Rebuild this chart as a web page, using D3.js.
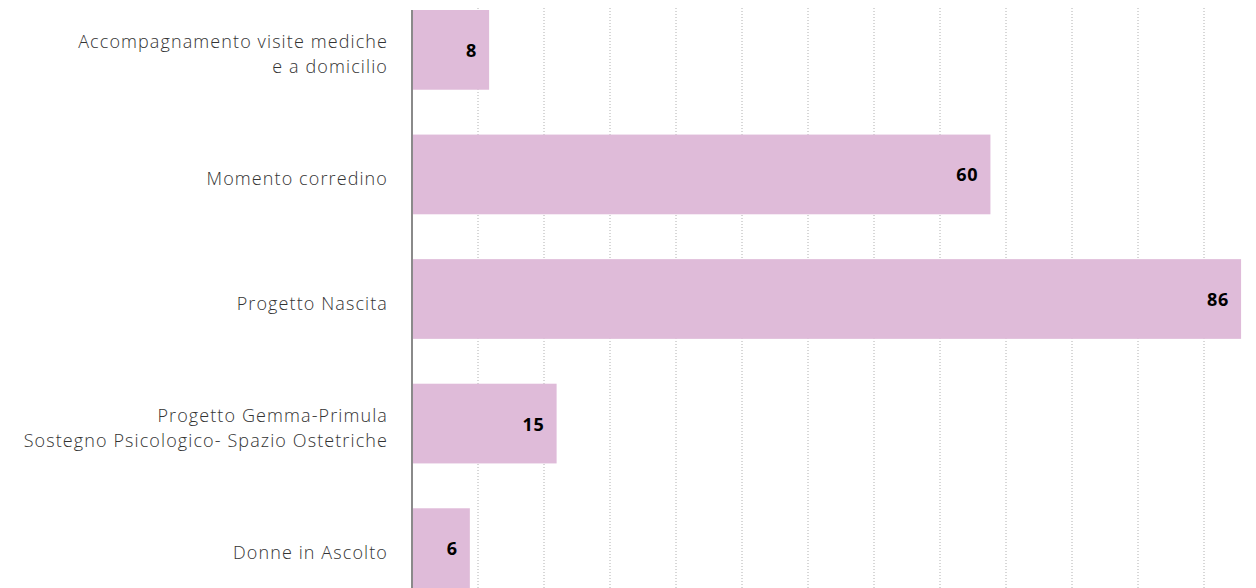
<!DOCTYPE html>
<html><head><meta charset="utf-8">
<script src="https://cdn.jsdelivr.net/npm/d3@7"></script>
<style>html,body{margin:0;padding:0;background:#fff;}svg{display:block;}</style>
</head><body>
<script>
const categories = [
  ["Accompagnamento visite mediche", "e a domicilio"],
  ["Momento corredino"],
  ["Progetto Nascita"],
  ["Progetto Gemma-Primula", "Sostegno Psicologico- Spazio Ostetriche"],
  ["Donne in Ascolto"]
];
const values = [8, 60, 86, 15, 6];
const gridLines = d3.range(1, 13);

const W = 1256, H = 588;
const svg = d3.select("body").append("svg").attr("width", W).attr("height", H);

const x = d3.scaleLinear().domain([0, 89]).range([412, 1270]);
const g = d3.scaleLinear().domain([0, 13]).range([412, 1270]);
const y = d3.scaleBand().domain(d3.range(categories.length)).range([10, 588]).paddingInner(0.36).paddingOuter(0);

svg.append("g").selectAll("line").data(gridLines).join("line")
  .attr("x1", d => g(d)).attr("x2", d => g(d))
  .attr("y1", 8).attr("y2", H)
  .attr("stroke", "#b0b0b0").attr("stroke-width", 1).attr("stroke-dasharray", "1,2");

svg.append("g").selectAll("rect").data(values).join("rect")
  .attr("x", x(0)).attr("y", (d, i) => y(i))
  .attr("width", d => x(d) - x(0)).attr("height", y.bandwidth())
  .attr("fill", "#dfbbd9");

svg.append("line").attr("x1", x(0)).attr("x2", x(0)).attr("y1", 10).attr("y2", H)
  .attr("stroke", "#8a8a8a").attr("stroke-width", 2);

svg.append("g").selectAll("text").data(values).join("text")
  .attr("x", d => x(d) - 12).attr("y", (d, i) => y(i) + y.bandwidth() / 2)
  .attr("text-anchor", "end").attr("dominant-baseline", "central")
  .attr("font-family", "Open Sans, sans-serif").attr("font-weight", 700)
  .attr("font-size", 18).attr("letter-spacing", 0.8).attr("fill", "#000").text(d => d);

const lab = svg.append("g").selectAll("text").data(categories).join("text")
  .attr("text-anchor", "end")
  .attr("font-family", "Open Sans, sans-serif").attr("font-weight", 300)
  .attr("font-size", 18).attr("letter-spacing", 1.1).attr("fill", "#333");
lab.each(function (lines, i) {
  const t = d3.select(this);
  const cy = y(i) + y.bandwidth() / 2 + 4;
  const lh = 25;
  lines.forEach((l, k) => {
    t.append("tspan").attr("x", 388)
      .attr("y", cy + (k - (lines.length - 1) / 2) * lh)
      .attr("dominant-baseline", "central").text(l);
  });
});
</script>
</body></html>
